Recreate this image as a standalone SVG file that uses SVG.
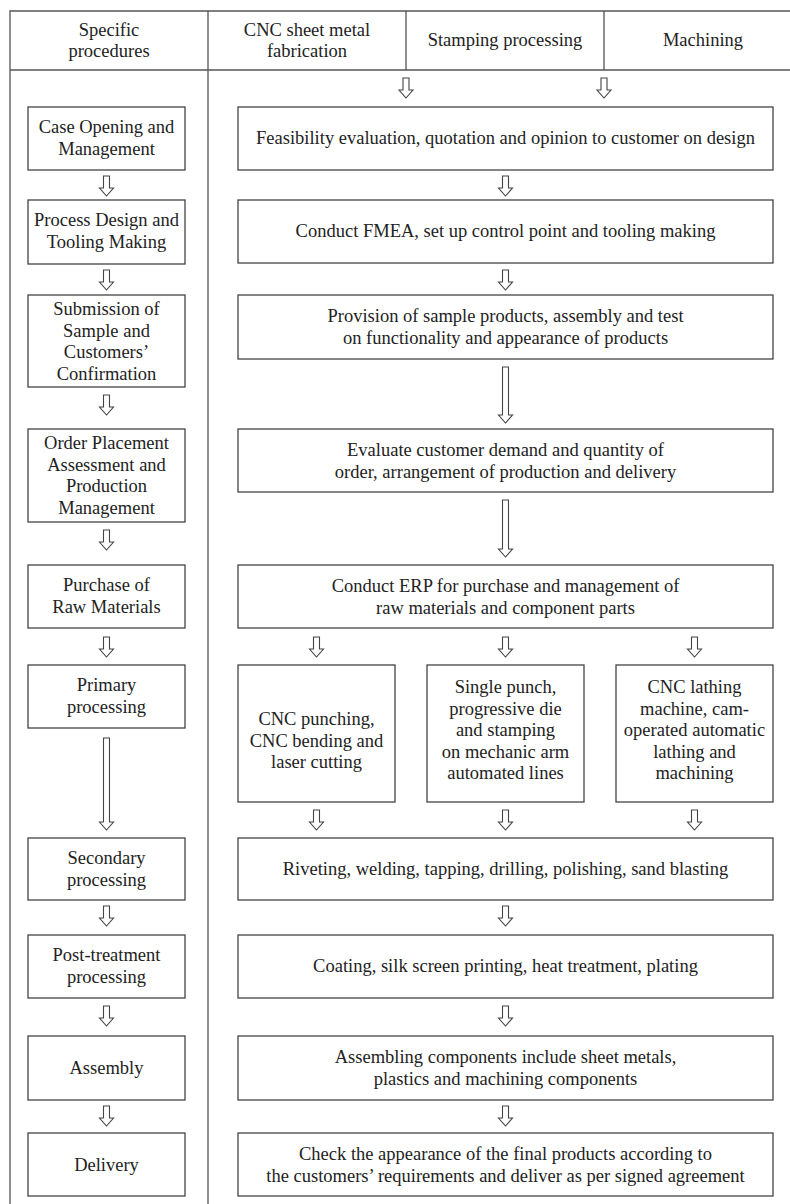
<svg xmlns="http://www.w3.org/2000/svg" width="790" height="1204" viewBox="0 0 790 1204">
<style>
.frame{fill:none;stroke:#555;stroke-width:1.3}
.box{fill:#fff;stroke:#444;stroke-width:1.3}
.arr{fill:#fff;stroke:#444;stroke-width:1.1}
</style>
<defs>
<path id="a" class="arr" d="M-3,0 H3 V12 H7 L0,20 L-7,12 H-3 Z"/>
</defs>
<rect width="790" height="1204" fill="#fff"/>
<g id="frame">
<path class="frame" d="M10,1204 V11 H790 M10,70 H790 M208,11 V1204 M406,11 V70 M604,11 V70"/>
</g>
<g id="headers" font-size="18.5" fill="#222" text-anchor="middle">
<text font-family="Liberation Serif" x="109" y="36">Specific</text><text font-family="Liberation Serif" x="109" y="57">procedures</text>
<text font-family="Liberation Serif" x="307" y="36">CNC sheet metal</text><text font-family="Liberation Serif" x="307" y="57">fabrication</text>
<text font-family="Liberation Serif" x="505" y="46">Stamping processing</text>
<text font-family="Liberation Serif" x="703" y="46">Machining</text>
</g>
<g font-size="18.5" fill="#222" text-anchor="middle">
<g id="left-1"><rect class="box" x="28" y="107" width="157" height="63"/><text font-family="Liberation Serif" x="106.5" y="133">Case Opening and</text><text font-family="Liberation Serif" x="106.5" y="155">Management</text></g>
<g id="left-2"><rect class="box" x="28" y="200" width="157" height="64"/><text font-family="Liberation Serif" x="106.5" y="226">Process Design and</text><text font-family="Liberation Serif" x="106.5" y="248">Tooling Making</text></g>
<g id="left-3"><rect class="box" x="28" y="295" width="157" height="92"/><text font-family="Liberation Serif" x="106.5" y="315">Submission of</text><text font-family="Liberation Serif" x="106.5" y="336.5">Sample and</text><text font-family="Liberation Serif" x="106.5" y="358">Customers’</text><text font-family="Liberation Serif" x="106.5" y="379.5">Confirmation</text></g>
<g id="left-4"><rect class="box" x="28" y="429" width="157" height="93"/><text font-family="Liberation Serif" x="106.5" y="449">Order Placement</text><text font-family="Liberation Serif" x="106.5" y="470.5">Assessment and</text><text font-family="Liberation Serif" x="106.5" y="492">Production</text><text font-family="Liberation Serif" x="106.5" y="513.5">Management</text></g>
<g id="left-5"><rect class="box" x="28" y="565" width="157" height="63"/><text font-family="Liberation Serif" x="106.5" y="591">Purchase of</text><text font-family="Liberation Serif" x="106.5" y="613">Raw Materials</text></g>
<g id="left-6"><rect class="box" x="28" y="665" width="157" height="63"/><text font-family="Liberation Serif" x="106.5" y="691">Primary</text><text font-family="Liberation Serif" x="106.5" y="713">processing</text></g>
<g id="left-7"><rect class="box" x="28" y="838" width="157" height="62"/><text font-family="Liberation Serif" x="106.5" y="864">Secondary</text><text font-family="Liberation Serif" x="106.5" y="886">processing</text></g>
<g id="left-8"><rect class="box" x="28" y="935" width="157" height="63"/><text font-family="Liberation Serif" x="106.5" y="961">Post-treatment</text><text font-family="Liberation Serif" x="106.5" y="983">processing</text></g>
<g id="left-9"><rect class="box" x="28" y="1036" width="157" height="64"/><text font-family="Liberation Serif" x="106.5" y="1074">Assembly</text></g>
<g id="left-10"><rect class="box" x="28" y="1133" width="157" height="63"/><text font-family="Liberation Serif" x="106.5" y="1171">Delivery</text></g>

<g id="right-1"><rect class="box" x="238" y="107" width="535" height="63"/><text font-family="Liberation Serif" x="505.5" y="144">Feasibility evaluation, quotation and opinion to customer on design</text></g>
<g id="right-2"><rect class="box" x="238" y="200" width="535" height="63"/><text font-family="Liberation Serif" x="505.5" y="237">Conduct FMEA, set up control point and tooling making</text></g>
<g id="right-3"><rect class="box" x="238" y="295" width="535" height="64"/><text font-family="Liberation Serif" x="505.5" y="322">Provision of sample products, assembly and test</text><text font-family="Liberation Serif" x="505.5" y="344">on functionality and appearance of products</text></g>
<g id="right-4"><rect class="box" x="238" y="429" width="535" height="63"/><text font-family="Liberation Serif" x="505.5" y="456">Evaluate customer demand and quantity of</text><text font-family="Liberation Serif" x="505.5" y="478">order, arrangement of production and delivery</text></g>
<g id="right-5"><rect class="box" x="238" y="565" width="535" height="63"/><text font-family="Liberation Serif" x="505.5" y="592">Conduct ERP for purchase and management of</text><text font-family="Liberation Serif" x="505.5" y="614">raw materials and component parts</text></g>
<g id="sub-1"><rect class="box" x="238" y="665" width="157" height="137"/><text font-family="Liberation Serif" x="316.5" y="725">CNC punching,</text><text font-family="Liberation Serif" x="316.5" y="746.5">CNC bending and</text><text font-family="Liberation Serif" x="316.5" y="768">laser cutting</text></g>
<g id="sub-2"><rect class="box" x="427" y="665" width="157" height="137"/><text font-family="Liberation Serif" x="505.5" y="693">Single punch,</text><text font-family="Liberation Serif" x="505.5" y="714.5">progressive die</text><text font-family="Liberation Serif" x="505.5" y="736">and stamping</text><text font-family="Liberation Serif" x="505.5" y="757.5">on mechanic arm</text><text font-family="Liberation Serif" x="505.5" y="779">automated lines</text></g>
<g id="sub-3"><rect class="box" x="616" y="665" width="157" height="137"/><text font-family="Liberation Serif" x="694.5" y="693">CNC lathing</text><text font-family="Liberation Serif" x="694.5" y="714.5">machine, cam-</text><text font-family="Liberation Serif" x="694.5" y="736">operated automatic</text><text font-family="Liberation Serif" x="694.5" y="757.5">lathing and</text><text font-family="Liberation Serif" x="694.5" y="779">machining</text></g>
<g id="right-6"><rect class="box" x="238" y="838" width="535" height="62"/><text font-family="Liberation Serif" x="505.5" y="875">Riveting, welding, tapping, drilling, polishing, sand blasting</text></g>
<g id="right-7"><rect class="box" x="238" y="935" width="535" height="63"/><text font-family="Liberation Serif" x="505.5" y="972">Coating, silk screen printing, heat treatment, plating</text></g>
<g id="right-8"><rect class="box" x="238" y="1036" width="535" height="64"/><text font-family="Liberation Serif" x="505.5" y="1063">Assembling components include sheet metals,</text><text font-family="Liberation Serif" x="505.5" y="1085">plastics and machining components</text></g>
<g id="right-9"><rect class="box" x="238" y="1133" width="535" height="63"/><text font-family="Liberation Serif" x="505.5" y="1160">Check the appearance of the final products according to</text><text font-family="Liberation Serif" x="505.5" y="1182">the customers’ requirements and deliver as per signed agreement</text></g>
</g>

<g id="connectors">
<use href="#a" x="406" y="78"/><use href="#a" x="604" y="78"/>
<use href="#a" x="106.5" y="176"/><use href="#a" x="505.5" y="176"/>
<use href="#a" x="106.5" y="270"/><use href="#a" x="505.5" y="270"/>
<use href="#a" x="106.5" y="395"/>
<path class="arr" d="M502.5,367 H508.5 V415 H512.5 L505.5,423 L498.5,415 H502.5 Z"/>
<use href="#a" x="106.5" y="530"/>
<path class="arr" d="M502.5,500 H508.5 V549 H512.5 L505.5,557 L498.5,549 H502.5 Z"/>
<use href="#a" x="106.5" y="637"/>
<use href="#a" x="316.5" y="637"/><use href="#a" x="505.5" y="637"/><use href="#a" x="694.5" y="637"/>
<path class="arr" d="M103.5,738 H109.5 V822 H113.5 L106.5,830 L99.5,822 H103.5 Z"/>
<use href="#a" x="316.5" y="810"/><use href="#a" x="505.5" y="810"/><use href="#a" x="694.5" y="810"/>
<use href="#a" x="106.5" y="906"/><use href="#a" x="505.5" y="906"/>
<use href="#a" x="106.5" y="1006"/><use href="#a" x="505.5" y="1006"/>
<use href="#a" x="106.5" y="1106"/><use href="#a" x="505.5" y="1106"/>
</g>
</svg>
